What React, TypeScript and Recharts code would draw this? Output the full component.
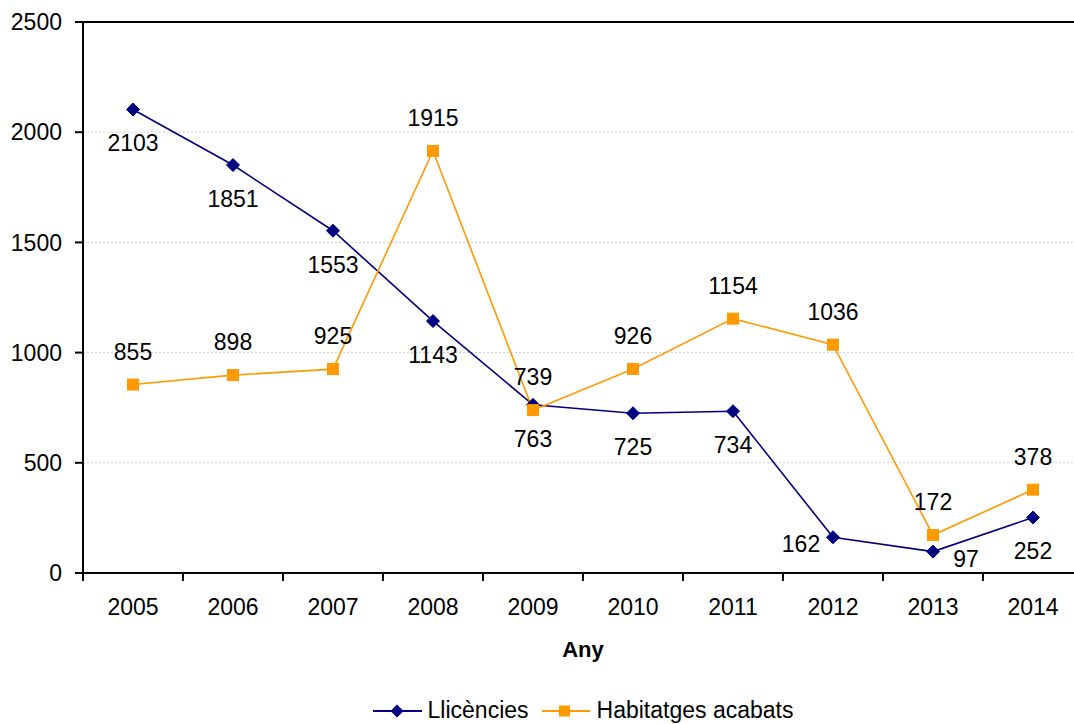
import React from 'react';
import { LineChart, Line, XAxis, YAxis, CartesianGrid, Legend, LabelList, ReferenceLine } from 'recharts';

const years = ['2005', '2006', '2007', '2008', '2009', '2010', '2011', '2012', '2013', '2014'];
const llicencies = [2103, 1851, 1553, 1143, 763, 725, 734, 162, 97, 252];
const habitatges = [855, 898, 925, 1915, 739, 926, 1154, 1036, 172, 378];
const yTicks = [0, 500, 1000, 1500, 2000, 2500];

const data = years.map((y, i) => ({ year: y, llicencies: llicencies[i], habitatges: habitatges[i] }));

const FONT = '"Liberation Sans", Arial, sans-serif';
const NAVY = '#000080';
const ORANGE = '#FF9900';
const FS = 23;

const Diamond = (props: any) => {
  const { cx, cy } = props;
  if (cx == null || cy == null) return null;
  const r = 6.5;
  return <polygon points={`${cx},${cy - r} ${cx + r},${cy} ${cx},${cy + r} ${cx - r},${cy}`} fill={NAVY} stroke={NAVY} />;
};

const Square = (props: any) => {
  const { cx, cy } = props;
  if (cx == null || cy == null) return null;
  const s = 5.5;
  return <rect x={cx - s} y={cy - s} width={2 * s} height={2 * s} fill={ORANGE} stroke={ORANGE} />;
};

const llOffsets: Record<number, [number, number]> = { 7: [-32, 7], 8: [33, 7] };

const LlLabel = (props: any) => {
  const { x, y, value, index } = props;
  const [dx, dy] = llOffsets[index] || [0, 34];
  return (
    <text x={x + dx} y={y + dy} textAnchor="middle" dominantBaseline="central" fontSize={FS} fontFamily={FONT} fill="#000">
      {value}
    </text>
  );
};

const HaLabel = (props: any) => {
  const { x, y, value } = props;
  return (
    <text x={x} y={y - 33} textAnchor="middle" dominantBaseline="central" fontSize={FS} fontFamily={FONT} fill="#000">
      {value}
    </text>
  );
};

const XTick = (props: any) => {
  const { x, y, payload } = props;
  const half = payload && payload.offset ? payload.offset : 50;
  return (
    <g>
      <line x1={x - half} x2={x - half} y1={y - 27} y2={y - 19} stroke="#000" strokeWidth={2} />
      <text x={x} y={y - 1} dy="0.71em" textAnchor="middle" fontSize={FS} fontFamily={FONT} fill="#000">
        {payload.value}
      </text>
    </g>
  );
};

const LegendContent = () => (
  <div style={{ display: 'flex', justifyContent: 'center', alignItems: 'center', fontFamily: FONT, fontSize: FS, lineHeight: '23px', color: '#000', whiteSpace: 'nowrap' }}>
    <svg width={49} height={20} style={{ marginRight: 6 }}>
      <line x1={0} x2={49} y1={10} y2={10} stroke={NAVY} strokeWidth={2} />
      <polygon points="24,3.5 30.5,10 24,16.5 17.5,10" fill={NAVY} />
    </svg>
    <span style={{ marginRight: 13 }}>Llicències</span>
    <svg width={48} height={20} style={{ marginRight: 7 }}>
      <line x1={0} x2={48} y1={10} y2={10} stroke={ORANGE} strokeWidth={2} />
      <rect x={17} y={4.5} width={11} height={11} fill={ORANGE} />
    </svg>
    <span>Habitatges acabats</span>
  </div>
);

export default function App() {
  return (
    <div style={{ position: 'absolute', left: 0, top: 0, width: 1074, height: 724, overflow: 'hidden', background: '#fff' }}>
      <LineChart width={1100} height={724} data={data} margin={{ top: 22, right: 17, left: 13, bottom: 0 }}>
        <CartesianGrid vertical={false} stroke="#cfcfcf" strokeDasharray="2 2" />
        <ReferenceLine y={2500} stroke="#000" strokeWidth={2} />
        <XAxis
          dataKey="year"
          scale="band"
          height={151}
          axisLine={{ stroke: '#000', strokeWidth: 2 }}
          tickLine={false}
          tickSize={8}
          tickMargin={19}
          tick={<XTick />}
          interval={0}
          label={{ value: 'Any', position: 'insideTop', offset: 68, fontSize: 22, fontWeight: 'bold', fontFamily: FONT, fill: '#000' }}
        />
        <YAxis
          domain={[0, 2500]}
          ticks={yTicks}
          width={70}
          axisLine={{ stroke: '#000', strokeWidth: 2 }}
          tickLine={{ stroke: '#000', strokeWidth: 2 }}
          tickSize={8}
          tickMargin={13}
          tick={{ fontSize: FS, fontFamily: FONT, fill: '#000' }}
          interval={0}
        />
        <Legend
          layout="horizontal"
          verticalAlign="middle"
          align="center"
          wrapperStyle={{ top: 699, left: 83, width: 1000 }}
          content={<LegendContent />}
        />
        <Line type="linear" dataKey="llicencies" name="Llicències" stroke={NAVY} strokeWidth={1.6} dot={<Diamond />} activeDot={false} isAnimationActive={false}>
          <LabelList dataKey="llicencies" content={<LlLabel />} />
        </Line>
        <Line type="linear" dataKey="habitatges" name="Habitatges acabats" stroke={ORANGE} strokeWidth={1.6} dot={<Square />} activeDot={false} isAnimationActive={false}>
          <LabelList dataKey="habitatges" content={<HaLabel />} />
        </Line>
      </LineChart>
    </div>
  );
}
